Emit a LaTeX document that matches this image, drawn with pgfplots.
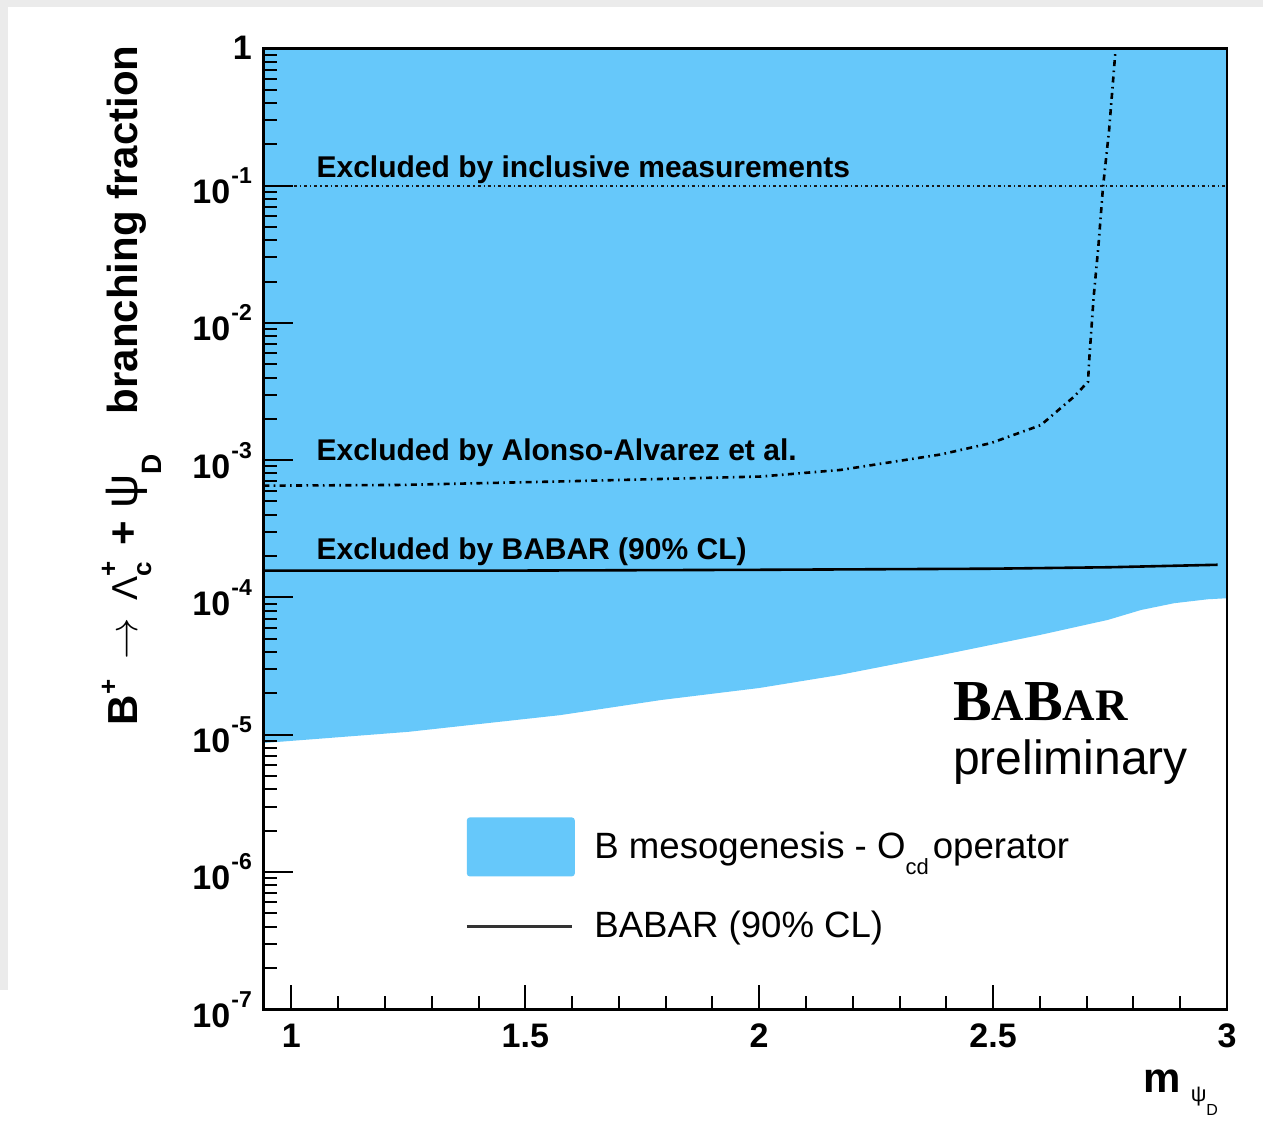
\documentclass[border=0pt]{standalone}
\usepackage{pgfplots}
\pgfplotsset{compat=1.18}
\usepackage{fontspec}
\setmainfont{Liberation Sans}
\newfontfamily\babarfont{Liberation Serif}

\definecolor{mesofill}{RGB}{102,200,250}
\definecolor{pagegray}{RGB}{235,235,235}

% decade tick label 10^{-n} set in the text font
\newcommand\dec[1]{10\kern0.6pt\raisebox{10pt}{\fontsize{11.5}{11.5}\selectfont -#1}}

\begin{document}
\begin{tikzpicture}
% page background
\fill[pagegray] (0pt,0pt) rectangle (631.5pt,562pt);
\fill[white] (4pt,0pt) rectangle (631.5pt,558.5pt);
\fill[white] (0pt,0pt) rectangle (4pt,67pt);
\path[use as bounding box] (0pt,0pt) rectangle (631.5pt,562pt);

\begin{axis}[
  at={(131.65pt,57.35pt)}, anchor=south west,
  width=481.85pt, height=480.5pt, scale only axis,
  xmin=0.94, xmax=3, ymin=1e-7, ymax=1, ymode=log,
  axis on top,
  axis line style={line width=1.3pt},
  xtick=\empty,
  ytick={1e-7,1e-6,1e-5,1e-4,1e-3,1e-2,1e-1,1},
  yticklabels={\dec{7},\dec{6},\dec{5},\dec{4},\dec{3},\dec{2},\dec{1},1},
  minor ytick={2e-7,3e-7,4e-7,5e-7,6e-7,7e-7,8e-7,9e-7,
               2e-6,3e-6,4e-6,5e-6,6e-6,7e-6,8e-6,9e-6,
               2e-5,3e-5,4e-5,5e-5,6e-5,7e-5,8e-5,9e-5,
               2e-4,3e-4,4e-4,5e-4,6e-4,7e-4,8e-4,9e-4,
               2e-3,3e-3,4e-3,5e-3,6e-3,7e-3,8e-3,9e-3,
               2e-2,3e-2,4e-2,5e-2,6e-2,7e-2,8e-2,9e-2,
               2e-1,3e-1,4e-1,5e-1,6e-1,7e-1,8e-1,9e-1},
  ytick pos=left, tick align=inside,
  major tick length=15pt, minor tick length=7pt,
  tick style={line width=1pt, black},
  yticklabel style={font=\bfseries\fontsize{17}{17}\selectfont, inner sep=0pt, xshift=-5.5pt},
  legend style={at={(0.2093,0.2001)}, anchor=north west, draw=none, fill=none,
    inner sep=0pt, row sep=15.5pt, font=\fontsize{18.3}{18.3}\selectfont,
    /tikz/every odd column/.append style={column sep=7.8pt}},
  legend cell align=left,
]
% allowed region of the B mesogenesis model (O_cd operator)
\addplot[fill=mesofill, draw=none,
  legend image code/.code={\fill[mesofill, rounded corners=1.5pt] (0pt,-14.75pt) rectangle (54pt,14.75pt);}]
  coordinates {
  (0.94,8.7e-6) (1.25,1.05e-5) (1.575,1.39e-5) (1.79,1.79e-5) (2.0,2.19e-5)
  (2.17,2.72e-5) (2.39,3.81e-5) (2.6,5.33e-5) (2.745,6.86e-5) (2.816,8.1e-5)
  (2.887,9.08e-5) (2.959,9.7e-5) (3.0,9.87e-5) (3.0,1) (0.94,1)
  } -- cycle;
\addlegendentry{B mesogenesis - O\raisebox{-8pt}{\fontsize{11}{11}\selectfont cd}\kern2pt operator}

% inclusive measurements
\addplot[forget plot, black!90, line width=1pt, dash pattern=on 1.5pt off 1.5pt on 0.6pt off 1.5pt]
  coordinates {(0.94,0.1) (3.0,0.1)};

% Alonso-Alvarez et al.
\addplot[forget plot, black, line width=1.3pt, dash pattern=on 3pt off 2.2pt on 0.8pt off 2.2pt]
  coordinates {
  (0.94,6.52e-4) (1.233,6.6e-4) (1.575,7.0e-4) (2.003,7.6e-4) (2.174,8.49e-4)
  (2.388,1.10e-3) (2.495,1.33e-3) (2.602,1.80e-3) (2.673,2.9e-3) (2.703,3.73e-3)
  (2.705,5.1e-3) (2.715,1.55e-2) (2.725,3.59e-2) (2.735,9.8e-2) (2.748,0.254) (2.762,1.0)
  };

% BABAR 90% CL upper limit
\addplot[black, line width=1.3pt,
  legend image code/.code={\draw[black!80, line width=1.4pt] (0pt,0pt) -- (52.5pt,0pt);}]
  coordinates {
  (0.94,1.567e-4) (1.5,1.57e-4) (2.0,1.59e-4) (2.5,1.62e-4) (2.75,1.66e-4) (2.98,1.73e-4)
  };
\addlegendentry{BABAR (90\% CL)}

\node[anchor=base west, inner sep=0pt, font=\bfseries\fontsize{15}{15}\selectfont]
  at (axis cs:1.053,0.1136) {Excluded by inclusive measurements};
\node[anchor=base west, inner sep=0pt, font=\bfseries\fontsize{15}{15}\selectfont]
  at (axis cs:1.053,9.87e-4) {Excluded by Alonso-Alvarez et al.};
\node[anchor=base west, inner sep=0pt, font=\bfseries\fontsize{15}{15}\selectfont]
  at (axis cs:1.053,1.905e-4) {Excluded by BABAR (90\% CL)};

\node[anchor=base west, inner sep=0pt]
  at (axis cs:2.4136,1.28e-5) {\babarfont\bfseries\fontsize{29}{29}\selectfont B\fontsize{22.5}{22.5}\selectfont A\fontsize{29}{29}\selectfont B\fontsize{22.5}{22.5}\selectfont AR};
\node[anchor=base west, inner sep=0pt]
  at (axis cs:2.4136,5.1e-6) {\fontsize{24}{24}\selectfont preliminary};
\end{axis}

% x axis ticks and labels
\begin{axis}[
  at={(131.65pt,57.35pt)}, anchor=south west,
  width=481.85pt, height=480.5pt, scale only axis,
  xmin=0.94, xmax=3, ymin=0, ymax=1,
  axis line style={draw=none},
  ytick=\empty,
  xtick={1,1.5,2,2.5,3}, xticklabels={1,1.5,2,2.5,3},
  minor xtick={1.1,1.2,1.3,1.4,1.6,1.7,1.8,1.9,2.1,2.2,2.3,2.4,2.6,2.7,2.8,2.9},
  xtick pos=bottom, tick align=inside,
  major tick length=12pt, minor tick length=6.5pt,
  tick style={line width=1pt, black},
  xticklabel style={font=\bfseries\fontsize{17}{17}\selectfont, inner sep=0pt, yshift=-7pt},
]
\end{axis}

% axis titles
\node[rotate=90, anchor=base east, inner sep=0pt] at (68.5pt,539.5pt)
  {\bfseries\fontsize{21}{21}\selectfont B\raisebox{10pt}{\fontsize{13}{13}\selectfont +}\kern10pt{\mdseries$\rightarrow$}\kern9pt{\mdseries\fontsize{18}{18}\selectfont Λ}\rlap{\raisebox{-7pt}{\fontsize{13}{13}\selectfont c}}\raisebox{10pt}{\fontsize{13}{13}\selectfont +}\kern8pt+\kern6pt{\mdseries\fontsize{24}{24}\selectfont ψ}\raisebox{-12pt}{\fontsize{14}{14}\selectfont D}\hspace{20pt}branching fraction};
\node[anchor=base west, inner sep=0pt] at (571.5pt,16pt)
  {\bfseries\fontsize{21}{21}\selectfont m\kern5pt\raisebox{-4.5pt}{\mdseries\fontsize{11}{11}\selectfont ψ\raisebox{-7pt}{\fontsize{8}{8}\selectfont D}}};
\end{tikzpicture}
\end{document}
